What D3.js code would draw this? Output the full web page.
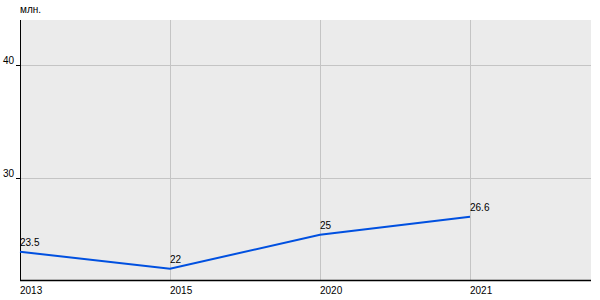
<!DOCTYPE html>
<html>
<head>
<meta charset="utf-8">
<script src="https://cdn.jsdelivr.net/npm/d3@7"></script>
<style>
  body { margin: 0; background: #fff; }
  svg text { font-family: "Liberation Sans", Arial, sans-serif; font-size: 10px; fill: #000; }
</style>
</head>
<body>
<div id="chart"></div>
<script>
const years = ["2013", "2015", "2020", "2021"];
const values = [23.5, 22, 25, 26.6];
const yTicks = [30, 40];
const unit = "млн.";

const width = 600;
const height = 300;
const margin = { top: 20, right: 9, bottom: 20, left: 20 };

const svg = d3.select("#chart")
  .append("svg")
  .attr("width", width)
  .attr("height", height);

const x = d3.scalePoint()
  .domain(years)
  .range([margin.left, 470]);

const y = d3.scaleLinear()
  .domain([21, 44])
  .range([height - margin.bottom, margin.top]);

// plot background
svg.append("rect")
  .attr("x", margin.left)
  .attr("y", margin.top)
  .attr("width", width - margin.right - margin.left)
  .attr("height", height - margin.bottom - margin.top)
  .attr("fill", "#ebebeb");

// grid
svg.append("g")
  .selectAll("line")
  .data(yTicks)
  .join("line")
  .attr("x1", margin.left)
  .attr("x2", width - margin.right)
  .attr("y1", (d) => Math.round(y(d)) + 0.5)
  .attr("y2", (d) => Math.round(y(d)) + 0.5)
  .attr("stroke", "#c4c4c4");

svg.append("g")
  .selectAll("line")
  .data(years.slice(1))
  .join("line")
  .attr("x1", (d) => x(d) + 0.5)
  .attr("x2", (d) => x(d) + 0.5)
  .attr("y1", margin.top)
  .attr("y2", height - margin.bottom)
  .attr("stroke", "#c4c4c4");

// y axis
const gy = svg.append("g");
gy.append("line")
  .attr("x1", margin.left + 0.5)
  .attr("x2", margin.left + 0.5)
  .attr("y1", margin.top)
  .attr("y2", height - margin.bottom)
  .attr("stroke", "#000");
gy.selectAll(".tick")
  .data(yTicks)
  .join("line")
  .attr("class", "tick")
  .attr("x1", margin.left - 4)
  .attr("x2", margin.left)
  .attr("y1", (d) => Math.round(y(d)) + 0.5)
  .attr("y2", (d) => Math.round(y(d)) + 0.5)
  .attr("stroke", "#000");
gy.selectAll("text")
  .data(yTicks)
  .join("text")
  .attr("x", margin.left - 6)
  .attr("y", (d) => y(d))
  .attr("dy", "-0.1em")
  .attr("text-anchor", "end")
  .text((d) => d);

// x axis
const gx = svg.append("g");
gx.append("line")
  .attr("x1", margin.left)
  .attr("x2", width - margin.right)
  .attr("y1", height - margin.bottom + 0.5)
  .attr("y2", height - margin.bottom + 0.5)
  .attr("stroke", "#000")
  .attr("stroke-width", 1.5);
gx.selectAll("text")
  .data(years)
  .join("text")
  .attr("x", (d) => x(d))
  .attr("y", height - margin.bottom + 14)
  .text((d) => d);

// unit label
svg.append("text")
  .attr("x", margin.left)
  .attr("y", 13)
  .text(unit);

// line
const data = years.map((yr, i) => ({ year: yr, value: values[i] }));

svg.append("path")
  .datum(data)
  .attr("fill", "none")
  .attr("stroke", "#0050e0")
  .attr("stroke-width", 2)
  .attr("d", d3.line().x((d) => x(d.year)).y((d) => y(d.value)));

svg.append("g")
  .selectAll("text")
  .data(data)
  .join("text")
  .attr("x", (d) => x(d.year))
  .attr("y", (d) => y(d.value) - 6)
  .text((d) => d.value);
</script>
</body>
</html>
